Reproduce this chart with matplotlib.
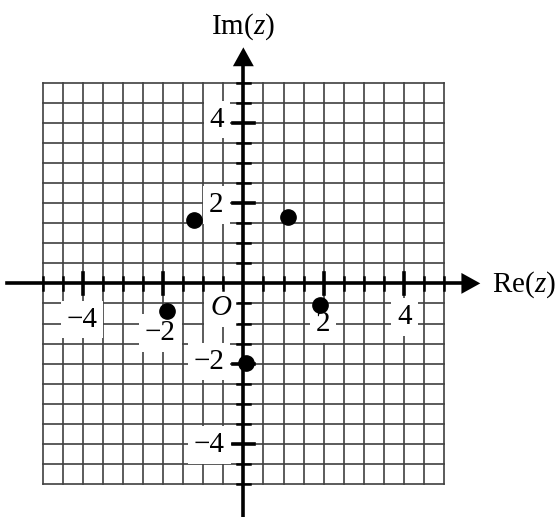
import matplotlib
matplotlib.use("Agg")
import matplotlib.pyplot as plt
import numpy as np

plt.rcParams['font.family'] = ['Liberation Serif', 'DejaVu Serif']
plt.rcParams['mathtext.fontset'] = 'custom'
plt.rcParams['mathtext.rm'] = 'Liberation Serif'
plt.rcParams['mathtext.it'] = 'Liberation Serif:italic'

# points
re_vals = [-1.22, 1.10, -1.89, 1.91, 0.07]
im_vals = [1.58, 1.66, -0.68, -0.54, -1.98]

# axis tick labels (value, text x, text y)
x_labels = [(-4, -4.02, -0.90, "\u22124"), (-2, -2.07, -1.24, "\u22122"),
            (2, 1.99, -1.01, "2"), (4, 4.01, -0.83, "4")]
y_labels = [(4, -0.66, 4.08, "4"), (2, -0.67, 1.96, "2"),
            (-2, -0.85, -1.95, "\u22122"), (-4, -0.85, -4.03, "\u22124")]

fig = plt.figure(figsize=(5.59, 5.17), dpi=100)
ax = fig.add_axes([0, 0, 1, 1])
ax.set_xlim(-6.06, 7.86)
ax.set_ylim(-5.82, 7.06)
ax.axis('off')

# grid
grid = np.arange(-5, 5.01, 0.5)
for g in grid:
    ax.plot([g, g], [-5, 5], color='#404040', lw=1.2, zorder=1)
    ax.plot([-5, 5], [g, g], color='#404040', lw=1.2, zorder=1)

# axes with arrows
ax.plot([-5.89, 5.5], [0, 0], color='black', lw=2.6, zorder=3)
ax.plot([0, 0], [-5.8, 5.5], color='black', lw=2.6, zorder=3)
ax.fill([5.43, 5.90, 5.43], [0.26, 0, -0.26], color='black', zorder=3, lw=0)
ax.fill([-0.26, 0, 0.26], [5.41, 5.88, 5.41], color='black', zorder=3, lw=0)

# ticks
for g in grid:
    if g == 0:
        continue
    major = g in (-4, -2, 2, 4)
    h = 0.27 if major else 0.16
    w = 2.6 if major else 1.8
    ax.plot([g, g], [-h, h], color='black', lw=w, zorder=3)
    ax.plot([-h, h], [g, g], color='black', lw=w, zorder=3)

fs = 21
box = dict(boxstyle='square,pad=0.2', fc='white', ec='none')
for v, tx, ty, s in x_labels + y_labels:
    ax.text(tx, ty, s, fontsize=fs, ha='center', va='center',
            bbox=box, zorder=2)

ax.text(-0.56, -0.62, r'$O$', fontsize=fs, ha='center', va='center',
        bbox=box, zorder=2)
ax.text(6.19, -0.21, r'$\mathrm{Re}(z)$', fontsize=fs, ha='left', va='baseline')
ax.text(0.0, 6.23, r'$\mathrm{Im}(z)$', fontsize=fs, ha='center', va='baseline')

ax.plot(re_vals, im_vals, 'o', color='black', ms=11, zorder=4)

fig.savefig("out.png", dpi=100)
